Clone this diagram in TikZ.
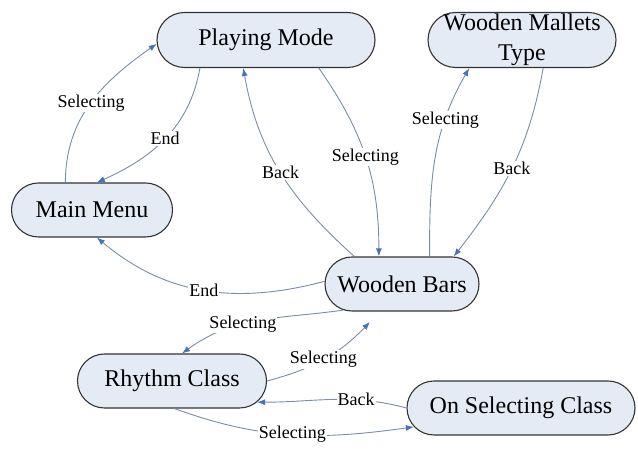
\documentclass[tikz,border=0pt]{standalone}
\usepackage{fontspec}
\setmainfont{Liberation Serif}
\usetikzlibrary{shapes.misc,arrows.meta}
\definecolor{statefill}{RGB}{229,235,245}
\definecolor{edgeline}{RGB}{120,140,172}
\definecolor{tipblue}{RGB}{70,115,185}
\newcommand{\nt}[1]{\makebox[0pt]{#1}}

\begin{document}
\begin{tikzpicture}[
		x=1pt, y=1pt,
		state/.style={rounded rectangle, draw=black!80, line width=1.1pt, fill=statefill, minimum height=54pt, inner sep=0pt, font=\fontsize{24}{30}\selectfont, align=center},
		trans/.style={draw=edgeline, line width=0.9pt, -{Latex[length=8pt,width=6pt,color=tipblue]}},
		lbl/.style={fill=white, inner sep=1pt, font=\fontsize{18}{20}\selectfont},
	]
		\useasboundingbox (0,0) rectangle (638,449);
		\node (play) [state, minimum width=218pt, minimum height=55pt] at (266,409) {\nt{Playing Mode}};
		\node (mallet) [state, minimum width=188pt, minimum height=55pt] at (522,409) {\nt{Wooden Mallets}\\\nt{Type}};
		\node (menu) [state, minimum width=161pt] at (92,239) {\nt{Main Menu}};
		\node (bars) [state, minimum width=154pt] at (402,165) {\nt{Wooden Bars}};
		\node (rhythm) [state, minimum width=189pt] at (172,68) {\nt{Rhythm Class}};
		\node (onsel) [state, minimum width=228pt] at (521,41) {\nt{On Selecting Class}};
		\coordinate (barsin) at (370,127);

		\draw[trans] (menu.134) to[out=90, in=215] node[lbl]{Selecting} (play.182);
		\draw[trans] (play.203) to[out=-100, in=24] node[lbl]{End} (menu.80);
		\draw[trans] (bars.150) to[out=138, in=-80] node[lbl]{Back} (play.231);
		\draw[trans] (play.-28) to[out=-55, in=90] node[lbl]{Selecting} (bars.130);
		\draw[trans] (bars.45) to[out=90, in=-120] node[lbl, pos=0.72]{Selecting} (mallet.208);
		\draw[trans] (mallet.-53) to[out=-100, in=52] node[lbl]{Back} (bars.28);
		\draw[trans] (bars.178) to[out=195, in=-40] node[lbl]{End} (menu.-80);
		\draw[trans] (bars.204) to[out=188, in=36] node[lbl, pos=0.6]{Selecting} (rhythm.70);
		\draw[trans] (rhythm.east) to[out=15, in=-134] node[lbl]{Selecting} (barsin);
		\draw[trans] (onsel.west) to[out=165, in=0] node[lbl, pos=0.33]{Back} (rhythm.-14);
		\draw[trans] (rhythm.-85) to[out=-20, in=188] node[lbl]{Selecting} (onsel.190);
	\end{tikzpicture}
\end{document}
